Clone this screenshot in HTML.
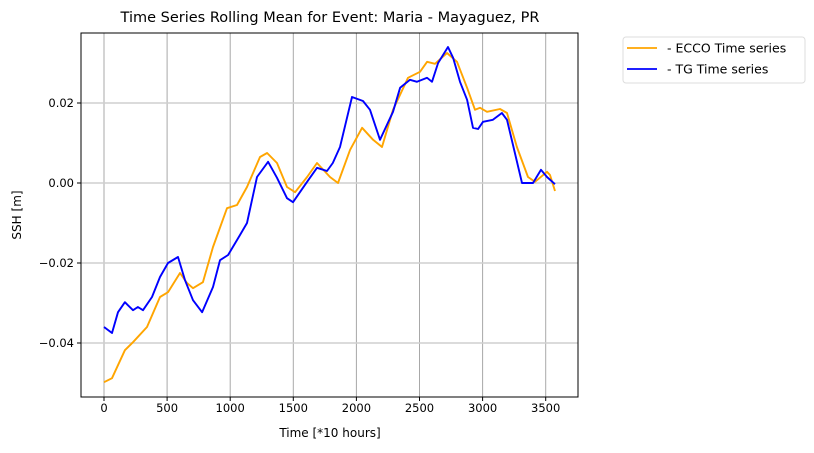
<!DOCTYPE html>
<html><head><meta charset="utf-8"><style>
body{margin:0;background:#fff;}
svg{display:block;font-family:"DejaVu Sans","Liberation Sans",sans-serif;}
</style></head><body>
<svg id="chart" width="814" height="453" xmlns="http://www.w3.org/2000/svg">
<text x="330" y="22" text-anchor="middle" font-size="14.5" fill="#000">Time Series Rolling Mean for Event: Maria - Mayaguez, PR</text>
<g id="grid"></g>
<g id="series"></g>
<rect x="81" y="33" width="497" height="364" fill="none" stroke="#000" stroke-width="1"/>
<g id="axes"></g>
<text x="330" y="437" text-anchor="middle" font-size="12">Time [*10 hours]</text>
<text transform="translate(21,215) rotate(-90)" text-anchor="middle" font-size="12">SSH [m]</text>
<g>
<rect x="623" y="37" width="182" height="46" rx="3" fill="#fff" stroke="#ddd"/>
<g>
<line x1="627" y1="48" x2="657" y2="48" stroke="orange" stroke-width="1.8"/>
<text x="667" y="52.5" font-size="12.5">- ECCO Time series</text></g>
<g>
<line x1="627" y1="69" x2="657" y2="69" stroke="blue" stroke-width="1.8"/>
<text x="667" y="73.5" font-size="12.5">- TG Time series</text></g>
</g>
</svg>
<script>
const xTicks=[0,500,1000,1500,2000,2500,3000,3500];
const yTicks=[-0.04,-0.02,0.00,0.02];
const yTickLabels=["−0.04","−0.02","0.00","0.02"];
const eccoX=[0,63,166,230,341,444,507,602,658,705,784,864,975,1054,1133,1236,1292,1371,1450,1514,1609,1688,1791,1854,1950,2045,2132,2203,2290,2409,2504,2560,2623,2718,2797,2877,2940,2980,3035,3138,3193,3272,3360,3415,3510,3534,3574];
const eccoY=[-0.0498,-0.0488,-0.0418,-0.0398,-0.0360,-0.0285,-0.0273,-0.0225,-0.0250,-0.0263,-0.0248,-0.0160,-0.0063,-0.0055,-0.0010,0.0065,0.0075,0.0050,-0.0010,-0.0023,0.0015,0.0050,0.0015,0.0000,0.0083,0.0138,0.0108,0.0090,0.0183,0.0263,0.0278,0.0303,0.0298,0.0325,0.0303,0.0238,0.0183,0.0188,0.0178,0.0185,0.0175,0.0090,0.0015,0.0003,0.0028,0.0020,-0.0020];
const tgX=[0,63,111,166,230,269,309,380,444,507,586,642,705,777,864,919,983,1078,1133,1212,1300,1371,1450,1498,1609,1688,1767,1813,1870,1965,2052,2108,2187,2290,2346,2425,2480,2560,2599,2647,2726,2766,2821,2877,2924,2964,3003,3082,3153,3193,3241,3312,3399,3463,3510,3574];
const tgY=[-0.0360,-0.0375,-0.0323,-0.0298,-0.0318,-0.0310,-0.0318,-0.0285,-0.0235,-0.0200,-0.0185,-0.0243,-0.0293,-0.0323,-0.0260,-0.0193,-0.0180,-0.0130,-0.0100,0.0015,0.0053,0.0013,-0.0038,-0.0048,0.0003,0.0038,0.0030,0.0050,0.0090,0.0215,0.0205,0.0183,0.0108,0.0178,0.0238,0.0258,0.0253,0.0263,0.0253,0.0300,0.0340,0.0313,0.0253,0.0208,0.0138,0.0135,0.0153,0.0158,0.0175,0.0158,0.0095,0.0000,0.0000,0.0033,0.0015,-0.0003];

const NS="http://www.w3.org/2000/svg";
const X0=104, XS=0.1262;
function xs(v){return X0+v*XS;}
function ys(v){return 183-v*4000;}
function mk(tag,attrs,parent){const e=document.createElementNS(NS,tag);for(const k in attrs)e.setAttribute(k,attrs[k]);parent.appendChild(e);return e;}
const grid=document.getElementById('grid'),axes=document.getElementById('axes'),series=document.getElementById('series');
xTicks.forEach(t=>{
  const x=xs(t);
  const g=mk('line',{x1:x,x2:x,y1:33,y2:397,stroke:'#a8a8a8','stroke-width':1},grid);
  
  
  mk('line',{x1:x,x2:x,y1:397,y2:401,stroke:'#000'},axes);
  const l=mk('text',{x:x,y:412,'text-anchor':'middle','font-size':11.5},axes);
  l.textContent=String(t);
  
  
});
yTicks.forEach((t,i)=>{
  const y=ys(t);
  const g=mk('line',{x1:81,x2:578,y1:y,y2:y,stroke:'#cfcfcf','stroke-width':1.6},grid);
  
  
  mk('line',{x1:77,x2:81,y1:y,y2:y,stroke:'#000'},axes);
  const l=mk('text',{x:74,y:y+4,'text-anchor':'end','font-size':11.5},axes);
  l.textContent=yTickLabels[i];
  
  
});
function path(xa,ya){return xa.map((v,i)=>(i?'L':'M')+xs(v).toFixed(1)+','+ys(ya[i]).toFixed(1)).join('');}
const pe=mk('path',{d:path(eccoX,eccoY),fill:'none',stroke:'orange','stroke-width':1.9,'stroke-linejoin':'round'},series);


const pt=mk('path',{d:path(tgX,tgY),fill:'none',stroke:'blue','stroke-width':1.9,'stroke-linejoin':'round'},series);


</script>
</body></html>
